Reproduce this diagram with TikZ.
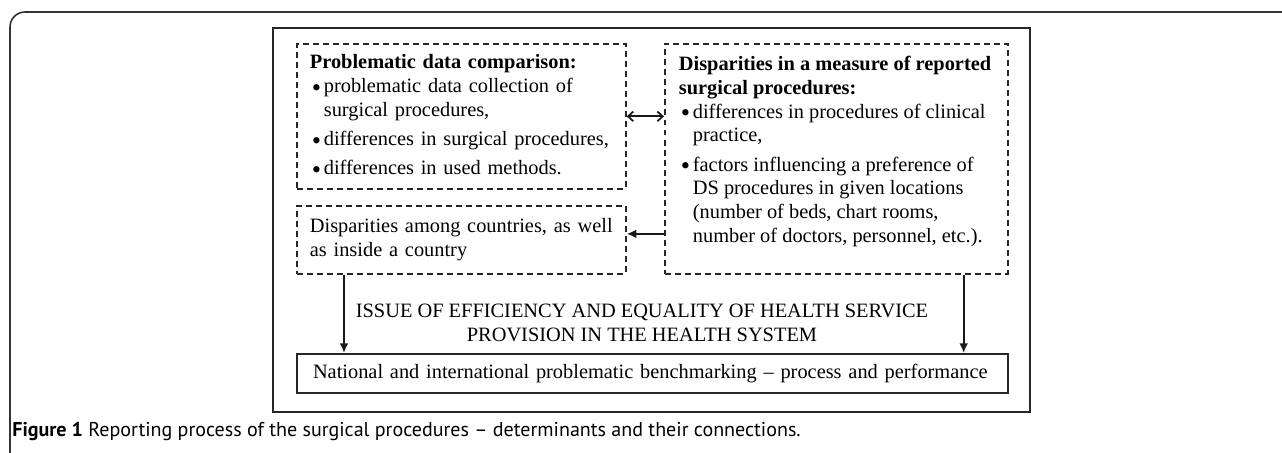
\documentclass[tikz,border=0pt]{standalone}
\usepackage{fontspec}
\setmainfont{Liberation Serif}
\newfontfamily\capfont[Ligatures=TeX]{PT Sans}
\usepackage{tikz}
\usetikzlibrary{positioning,arrows.meta}

\newcommand{\itm}{\makebox[0.28cm][l]{\hspace{0.04cm}\raisebox{-0.4ex}{\scalebox{1.3}{\textbullet}}}}
\newcommand{\hang}{\hspace*{0.28cm}}

\tikzset{
  dashbox/.style={draw=black!85, line width=1pt, dash pattern=on 3.4pt off 2.3pt,
    anchor=north west, align=left, inner xsep=0.26cm, inner ysep=0pt},
  benchbox/.style={draw=black!85, line width=1.15pt, anchor=north west, align=left,
    inner xsep=0.32cm, inner ysep=0pt},
  arr/.style={draw=black!90, line width=1pt, -{Latex[length=5.5pt,width=5pt]}},
  twoway/.style={draw=black!90, line width=1pt, {Straight Barb[length=3pt,width=5.5pt]}-{Straight Barb[length=3pt,width=5.5pt]}}
}

\begin{document}
\begin{tikzpicture}[x=0.02cm,y=-0.02cm,font=\fontsize{11.6}{13.6}\selectfont]
\useasboundingbox (0,0) rectangle (1282,453);
% figure frame
\draw[black!80, line width=0.9pt, rounded corners=0.3cm] (1290,12) -- (10,12) -- (10,460);
\draw[black!85, line width=1.15pt] (273,28) rectangle (1030,412);

\node[dashbox, text width=6.06cm, minimum height=2.9cm] (comparison) at (296,43)
  {\textbf{Problematic data comparison:}\\
   \itm problematic data collection of\\
   \hang surgical procedures,\\[3pt]
   \itm differences in surgical procedures,\\[3pt]
   \itm differences in used methods.};
\node[dashbox, inner xsep=0.28cm, inner ysep=0.24cm] (disparity) at (664,43)
  {\parbox[t][4.12cm][t]{6.3cm}{\noindent
   \textbf{Disparities in a measure of reported}\\
   \textbf{surgical procedures:}\\
   \itm differences in procedures of clinical\\
   \hang practice,\\[3pt]
   \itm factors influencing a preference of\\
   \hang DS procedures in given locations\\
   \hang (number of beds, chart rooms,\\
   \hang number of doctors, personnel, etc.).}};
\node[dashbox, text width=6.06cm, minimum height=1.36cm] (countries) at (296,205)
  {Disparities among countries, as well\\as inside a country};
\node[benchbox, text width=13.58cm, minimum height=0.78cm] (bench) at (296,353)
  {National and international problematic benchmarking -- process and performance};
\node[align=center] (issue) at (642,323)
  {ISSUE OF EFFICIENCY AND EQUALITY OF HEALTH SERVICE\\PROVISION IN THE HEALTH SYSTEM};

\draw[twoway] (comparison.east) -- (comparison.east -| disparity.west);
\draw[arr] ([yshift=0.12cm]countries.east -| disparity.west) -- ([yshift=0.12cm]countries.east);
\draw[arr] ([xshift=0.96cm]countries.south west) -- ([xshift=0.96cm]countries.south west |- bench.north);
\draw[arr] ([xshift=-0.9cm]disparity.south east) -- ([xshift=-0.9cm]disparity.south east |- bench.north);

\node[anchor=base west, inner sep=0pt, font=\capfont\fontsize{11.4}{13}\selectfont] (caption) at (12,436)
  {\textbf{Figure 1} Reporting process of the surgical procedures -- determinants and their connections.};
\end{tikzpicture}
\end{document}
